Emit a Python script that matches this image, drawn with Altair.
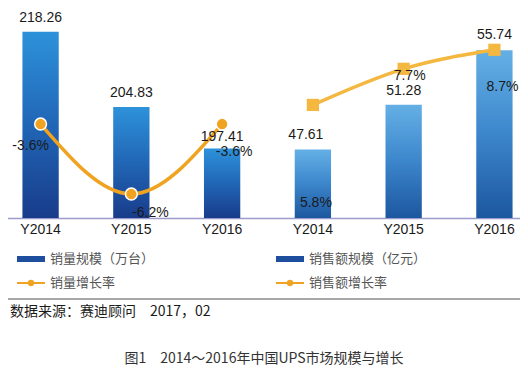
import altair as alt
import pandas as pd

# ---------------- data ----------------
years = ["Y2014", "Y2015", "Y2016"]
volume = [218.26, 204.83, 197.41]          # 销量规模（万台）
amount = [47.61, 51.28, 55.74]             # 销售额规模（亿元）
volume_growth = [-3.6, -6.2, -3.6]         # 销量增长率 (%)
amount_growth = [5.8, 7.7, 8.7]            # 销售额增长率 (%)
legend_labels = ["销量规模（万台）", "销售额规模（亿元）", "销量增长率", "销售额增长率"]
source_text = "数据来源：赛迪顾问　2017，02"
caption_text = "图1　2014～2016年中国UPS市场规模与增长"

left = pd.DataFrame({"slot": [0, 1, 2], "year": years, "value": volume, "growth": volume_growth})
right = pd.DataFrame({"slot": [3, 4, 5], "year": years, "value": amount, "growth": amount_growth})

# ---------------- style / layout ----------------
W, H = 512, 360
BASE = 210  # pixel row of the category axis
ORANGE = "#f0a320"
ORANGE_SQ = "#f4b740"
FONT = "Liberation Sans"
CJK = "Noto Sans CJK SC"

grad_left = alt.LinearGradient(
    gradient="linear", x1=0, y1=0, x2=0, y2=1,
    stops=[alt.GradientStop(color="#2d92da", offset=0),
           alt.GradientStop(color="#2166b6", offset=0.5),
           alt.GradientStop(color="#183c8a", offset=1)])
grad_right = alt.LinearGradient(
    gradient="linear", x1=0, y1=0, x2=0, y2=1,
    stops=[alt.GradientStop(color="#64b0e5", offset=0),
           alt.GradientStop(color="#3c86cc", offset=0.5),
           alt.GradientStop(color="#1c579f", offset=1)])

X = alt.X(
    "slot:O",
    scale=alt.Scale(type="band", domain=[0, 1, 2, 3, 4, 5], range=[-1, 520],
                    paddingInner=0.6, paddingOuter=0.17),
    axis=alt.Axis(title=None, offset=-(H - BASE), ticks=False, labelAngle=0,
                  labelExpr="['Y2014','Y2015','Y2016'][datum.value % 3]",
                  domainColor="#9c9ccc", domainWidth=1.5, labelFont=FONT,
                  labelFontSize=14, labelColor="#1a1a1a", labelPadding=4, grid=False),
)

s_vol = alt.Scale(domain=[185, 222.5], range=[BASE, 0], zero=False, nice=False)
s_amt = alt.Scale(domain=[42, 59.2], range=[BASE, 0], zero=False, nice=False)
s_vg = alt.Scale(domain=[-7.09, 0.71], range=[BASE, 0], zero=False, nice=False)
s_ag = alt.Scale(domain=[-0.15, 10.9], range=[BASE, 0], zero=False, nice=False)

layers = []

# bars
layers.append(alt.Chart(left).mark_bar(color=grad_left).encode(
    x=X, y=alt.Y("value:Q", scale=s_vol, axis=None), y2=alt.datum(185)))
layers.append(alt.Chart(right).mark_bar(color=grad_right).encode(
    x=X, y=alt.Y("value:Q", scale=s_amt, axis=None), y2=alt.datum(42)))

# lines + markers
layers.append(alt.Chart(left).mark_line(color=ORANGE, strokeWidth=3.5, interpolate="natural").encode(
    x=X, y=alt.Y("growth:Q", scale=s_vg, axis=None)))
layers.append(alt.Chart(left).mark_point(shape="circle", filled=True, size=140, fill=ORANGE,
                                         stroke="white", strokeWidth=1.5, opacity=1).encode(
    x=X, y=alt.Y("growth:Q", scale=s_vg, axis=None)))
layers.append(alt.Chart(right).mark_line(color=ORANGE_SQ, strokeWidth=3.5, interpolate="natural").encode(
    x=X, y=alt.Y("growth:Q", scale=s_ag, axis=None)))
layers.append(alt.Chart(right).mark_point(shape="square", filled=True, size=150, fill=ORANGE_SQ,
                                          opacity=1, strokeWidth=0).encode(
    x=X, y=alt.Y("growth:Q", scale=s_ag, axis=None)))

# value labels (offsets per label, in pixels)
val_off = {0: (0, -14), 1: (0, -14), 2: (0, -12), 3: (-7, -15), 4: (0, -14), 5: (0, -15)}
pct_off = {0: (-10, 22), 1: (19, 19), 2: (12, 28), 3: (3, 98), 4: (6, 7), 5: (8, 37)}

for df, s_val, s_g in [(left, s_vol, s_vg), (right, s_amt, s_ag)]:
    for slot in df["slot"]:
        dx, dy = val_off[int(slot)]
        layers.append(alt.Chart(df).transform_filter(alt.datum.slot == int(slot)).mark_text(
            dx=dx, dy=dy, fontSize=14, font=FONT, color="#1a1a1a", baseline="middle").encode(
            x=X, y=alt.Y("value:Q", scale=s_val, axis=None),
            text=alt.Text("value:Q", format=".2f")))
        dx, dy = pct_off[int(slot)]
        layers.append(alt.Chart(df).transform_filter(alt.datum.slot == int(slot)).transform_calculate(
            lab="'' + datum.growth + '%'").mark_text(
            dx=dx, dy=dy, fontSize=14, font=FONT, color="#1a1a1a", baseline="middle").encode(
            x=X, y=alt.Y("growth:Q", scale=s_g, axis=None), text="lab:N"))

# legend (manual)
one = pd.DataFrame({"k": [0]})
for col, xs in enumerate([9, 268]):
    layers.append(alt.Chart(one).mark_rect(color="#1d4f9e").encode(
        x=alt.value(xs), x2=alt.value(xs + 28), y=alt.value(248), y2=alt.value(254)))
    layers.append(alt.Chart(pd.DataFrame({"label": [legend_labels[col]]})).mark_text(
        align="left", baseline="middle", fontSize=13, font=CJK, color="#555555").encode(
        x=alt.value(xs + 33), y=alt.value(251), text="label:N"))
    layers.append(alt.Chart(one).mark_rule(color=ORANGE, strokeWidth=2).encode(
        x=alt.value(xs), x2=alt.value(xs + 28), y=alt.value(275)))
    layers.append(alt.Chart(one).mark_circle(color=ORANGE, size=40, opacity=1).encode(
        x=alt.value(xs + 14), y=alt.value(275)))
    layers.append(alt.Chart(pd.DataFrame({"label": [legend_labels[col + 2]]})).mark_text(
        align="left", baseline="middle", fontSize=13, font=CJK, color="#555555").encode(
        x=alt.value(xs + 33), y=alt.value(275), text="label:N"))

# separator, source and caption
layers.append(alt.Chart(one).mark_rule(color="#8a8a8a", strokeWidth=1.5).encode(
    x=alt.value(-1), x2=alt.value(514), y=alt.value(291)))
layers.append(alt.Chart(pd.DataFrame({"label": [source_text]})).mark_text(
    align="left", baseline="middle", fontSize=14, font=CJK, color="#1a1a1a").encode(
    x=alt.value(2), y=alt.value(304), text="label:N"))
layers.append(alt.Chart(pd.DataFrame({"label": [caption_text]})).mark_text(
    align="center", baseline="middle", fontSize=14, font=CJK, color="#333333").encode(
    x=alt.value(256), y=alt.value(351), text="label:N"))

chart = alt.layer(*layers).resolve_scale(y="independent").properties(
    width=W, height=H, autosize=alt.AutoSizeParams(type="none"), padding=0,
    background="white").configure_view(stroke=None)

chart.save("out.html", embed_options={"renderer": "svg", "actions": False})
